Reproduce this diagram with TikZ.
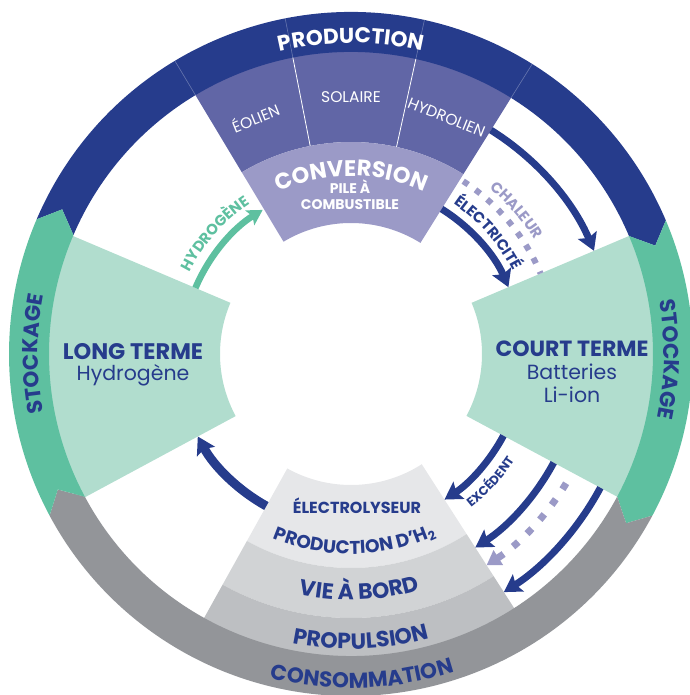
\documentclass[tikz,border=0pt]{standalone}
\usepackage{fontspec}
\setmainfont{Poppins}
\usetikzlibrary{arrows.meta,decorations.text}
\definecolor{navy}{RGB}{38,60,140}
\definecolor{srcpurple}{RGB}{97,102,166}
\definecolor{convlav}{RGB}{155,154,199}
\definecolor{stockgreen}{RGB}{94,192,160}
\definecolor{palegreen}{RGB}{177,221,206}
\definecolor{ringgray}{RGB}{147,149,153}
\definecolor{usehigh}{RGB}{230,231,233}
\definecolor{usemid}{RGB}{209,211,213}
\definecolor{uselow}{RGB}{189,191,194}
\newcommand{\ringfont}{\bfseries\fontsize{21.5}{22}\selectfont}
\newcommand{\titlefont}{\bfseries\fontsize{22.5}{24}\selectfont}
\newcommand{\plainfont}{\fontsize{20.5}{23}\selectfont}
\newcommand{\srcfont}{\fontsize{15.5}{17}\selectfont}
\newcommand{\smallbold}{\bfseries\fontsize{14}{17}\selectfont}
\newcommand{\bandfont}{\bfseries\fontsize{22}{24}\selectfont}
\newcommand{\tagfont}{\bfseries\fontsize{15}{17}\selectfont}
\newcommand{\annsec}[5]{\fill[#1] (#2:#4) arc[start angle=#2,end angle=#3,radius=#4] -- (#3:#5) arc[start angle=#3,end angle=#2,radius=#5] -- cycle;}
\newcommand{\ringpart}[3]{%
  \pgfmathsetmacro\tipin{#2-3.4}\pgfmathsetmacro\tipout{#3-3.4}%
  \fill[#1] (#2:342pt) arc[start angle=#2,end angle=#3,radius=342pt] -- (\tipout:323pt) -- (#3:302pt) arc[start angle=#3,end angle=#2,radius=302pt] -- (\tipin:323pt) -- cycle;}
\newcommand{\arctext}[5]{\path[decorate,decoration={text along path,text={#1},text align=center,text color=#2}] (#3:#5) arc[start angle=#3,end angle=#4,radius=#5];}
\begin{document}
\begin{tikzpicture}[x=1pt,y=1pt,
  bluearrow/.style={navy,line width=7pt,-{Stealth[length=17pt,width=20pt,inset=3pt]}},
  greenarrow/.style={stockgreen,line width=6.5pt,-{Stealth[length=15pt,width=17pt,inset=3pt]}},
  heatdots/.style={convlav,line width=6pt,dash pattern=on 6pt off 9pt},
  srclabel/.style={white,font=\srcfont},
  boxlabel/.style={navy,align=center}]
\useasboundingbox (-351,-341) rectangle (338,354);
% wedges
\annsec{srcpurple}{58}{121}{212pt}{310pt}
\annsec{convlav}{58}{121}{131pt}{212pt}
\annsec{palegreen}{157}{208.3}{131pt}{310pt}
\annsec{palegreen}{-28.2}{23}{131pt}{310pt}
\annsec{usehigh}{240.9}{302.7}{131pt}{214pt}
\annsec{usemid}{240.9}{302.7}{214pt}{264pt}
\annsec{uselow}{240.9}{302.7}{264pt}{310pt}
% ring
\ringpart{navy}{156.8}{23}
\ringpart{stockgreen}{23}{-28.2}
\ringpart{ringgray}{-28.2}{-151.8}
\ringpart{stockgreen}{208.2}{156.8}
\foreach \a in {77.6,101.1} \draw[white,line width=0.8pt] (\a:212pt) -- (\a:302pt);
\foreach \a in {58,77.6,101.1,121} \draw[white,opacity=0.3,line width=0.6pt] (\a:302pt) -- (\a:342pt);
% ring texts
\arctext{|\ringfont|PRODUCTION}{white}{130}{50}{311pt}
\arctext{|\ringfont|STOCKAGE}{navy}{220}{140}{313pt}
\arctext{|\ringfont|STOCKAGE}{navy}{39}{-41}{313pt}
\arctext{|\ringfont|CONSOMMATION}{navy}{232}{312}{334pt}
% production
\node[srclabel,rotate=22] (eolien) at (112:255pt) {ÉOLIEN};
\node[srclabel] (solaire) at (90:257pt) {SOLAIRE};
\node[srclabel,rotate=-22] (hydrolien) at (68:255pt) {HYDROLIEN};
\arctext{|\titlefont|CONVERSION}{white}{125}{55}{178pt}
\node[white,font=\smallbold] (pile) at (-1,167) {PILE À};
\node[white,font=\smallbold] (combustible) at (-1,149) {COMBUSTIBLE};
% stockage
\node[boxlabel,font=\titlefont] (longterme) at (-218,2) {LONG TERME};
\node[boxlabel,font=\plainfont] (hydrogene) at (-218,-21) {Hydrogène};
\node[boxlabel,font=\bfseries\fontsize{22}{24}\selectfont] (courtterme) at (221,5) {COURT TERME};
\node[boxlabel,font=\plainfont] (batteries) at (221,-18) {Batteries};
\node[boxlabel,font=\plainfont] (liion) at (221,-41) {Li-ion};
% consommation
\node[navy,font=\bfseries\fontsize{16}{18}\selectfont] (electrolyseur) at (6,-152) {ÉLECTROLYSEUR};
\arctext{|\bfseries\fontsize{18.5}{20}\selectfont|PRODUCTION D'H{\raisebox{-4pt}{\fontsize{12.5}{12}\selectfont 2}}}{navy}{236}{306}{200pt}
\arctext{|\bandfont|VIE À BORD}{navy}{242}{302}{246pt}
\arctext{|\bandfont|PROPULSION}{navy}{242}{302}{295pt}
% flows
\draw[greenarrow] (157:169pt) arc[start angle=157,end angle=121.5,radius=169pt];
\arctext{|\tagfont|HYDROGÈNE}{stockgreen}{165}{112}{181pt}
\draw[bluearrow] (58:264pt) arc[start angle=58,end angle=23,radius=264pt];
\draw[bluearrow] (58:171pt) arc[start angle=58,end angle=23,radius=171pt];
\draw[heatdots] (57:206pt) arc[start angle=57,end angle=23,radius=206pt];
\arctext{|\tagfont|ÉLECTRICITÉ}{navy}{70}{13}{182pt}
\arctext{|\tagfont|CHALEUR}{convlav}{62}{20}{216pt}
\draw[bluearrow,line width=9pt] (240.9:174pt) arc[start angle=240.9,end angle=208.3,radius=174pt];
\draw[bluearrow] (-28.2:173pt) arc[start angle=-28.2,end angle=-57.3,radius=173pt];
\arctext{|\bfseries\fontsize{12.5}{14}\selectfont|EXCÉDENT}{navy}{-60}{-25}{195pt}
\draw[bluearrow] (-28.2:230pt) arc[start angle=-28.2,end angle=-57.3,radius=230pt];
\draw[heatdots,line width=7pt,dash pattern=on 7pt off 12pt,-{Triangle[length=14pt,width=17pt]}] (-31:251pt) arc[start angle=-31,end angle=-57.3,radius=251pt];
\draw[bluearrow] (-28.2:283pt) arc[start angle=-28.2,end angle=-57.3,radius=283pt];
\end{tikzpicture}
\end{document}
